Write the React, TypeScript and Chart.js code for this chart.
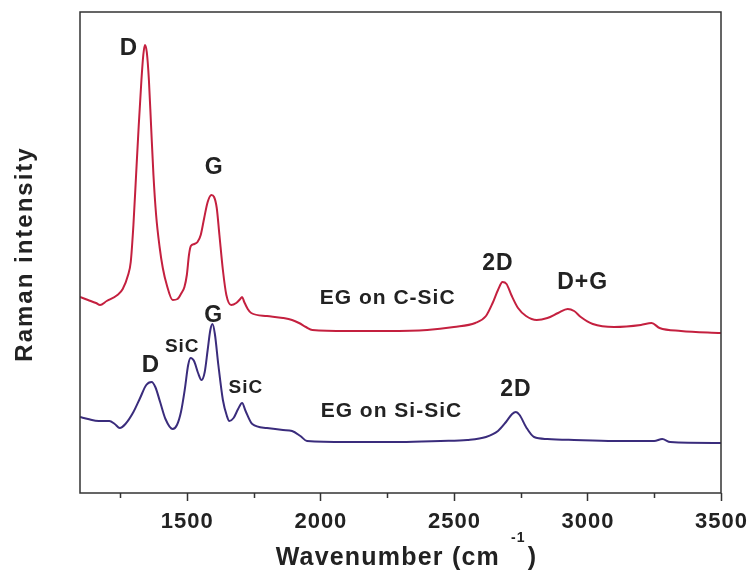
import React, { useEffect, useRef } from "react";
import { Chart, registerables } from "chart.js";

Chart.register(...registerables);

// Wavenumber (cm-1) and intensity (arbitrary units)
const redX = [1100, 1130, 1160, 1175, 1200, 1240, 1260, 1280, 1290, 1300, 1310, 1320, 1330, 1337, 1343, 1350, 1358, 1366, 1375, 1385, 1398, 1410, 1425, 1447, 1465, 1480, 1491, 1500, 1508, 1515, 1528, 1540, 1552, 1565, 1578, 1592, 1602, 1612, 1622, 1635, 1648, 1666, 1685, 1700, 1707, 1715, 1728, 1741, 1800, 1860, 1894, 1920, 1946, 1970, 2100, 2250, 2400, 2500, 2580, 2620, 2645, 2665, 2682, 2697, 2715, 2740, 2770, 2810, 2850, 2890, 2926, 2950, 2975, 3020, 3100, 3200, 3240, 3270, 3350, 3500];
const redY = [196, 193, 190, 188, 192, 198, 204, 218, 231, 268, 318, 368, 413, 438, 448, 441, 413, 368, 318, 278, 246, 225, 208, 193, 194, 200, 206, 218, 238, 247, 249, 251, 258, 275, 291, 298, 296, 285, 258, 223, 198, 188, 190, 194, 196, 191, 184, 180, 177, 175, 173, 170, 166, 163, 162, 162, 163, 166, 170, 177, 190, 203, 211, 209, 198, 185, 177, 173, 175, 180, 184, 182, 176, 169, 166, 168, 170, 165, 162, 160];

const blueX = [1100, 1130, 1170, 1210, 1230, 1249, 1270, 1300, 1325, 1348, 1368, 1382, 1400, 1420, 1447, 1463, 1478, 1492, 1505, 1514, 1527, 1542, 1555, 1567, 1578, 1588, 1596, 1605, 1618, 1635, 1650, 1659, 1675, 1692, 1707, 1720, 1745, 1800, 1860, 1894, 1925, 1950, 2100, 2300, 2450, 2550, 2620, 2665, 2695, 2718, 2732, 2746, 2770, 2800, 2850, 2950, 3100, 3250, 3280, 3310, 3500];
const blueY = [76, 74, 72, 72, 69, 65, 69, 81, 95, 108, 111, 106, 91, 74, 64, 68, 81, 103, 128, 135, 132, 120, 113, 121, 143, 163, 169, 159, 128, 93, 77, 72, 75, 84, 90, 82, 69, 65, 63, 62, 57, 52, 51, 51, 52, 53, 56, 62, 71, 79, 81, 78, 66, 56, 54, 53, 52, 52, 54, 51, 50];

const xMajorTicks = [1500, 2000, 2500, 3000, 3500];
const xMinorTicks = [1250, 1750, 2250, 2750, 3250];

// Peak annotations (data coordinates: wavenumber, baseline intensity)
const labelTexts = ["D", "G", "2D", "D+G", "EG on C-SiC", "D", "SiC", "G", "SiC", "EG on Si-SiC", "2D"];
const labelX = [1281, 1601, 2663, 2980, 2250, 1364, 1481, 1599, 1719, 2264, 2730];
const labelY = [438, 319, 223, 204, 189, 121, 141, 171, 100, 76, 97];
const labelSize = [24, 23, 23, 23, 21, 24, 19, 23, 19, 21, 23];

const RED = "#c4203f";
const BLUE = "#3a2c7c";
const INK = "#222222";
const FONT = '"Liberation Sans", Arial, sans-serif';

function drawSpaced(ctx: CanvasRenderingContext2D, text: string, cx: number, baseY: number, size: number, spacing: number) {
  ctx.font = `bold ${size}px ${FONT}`;
  (ctx as any).letterSpacing = `${spacing}px`;
  ctx.textAlign = "left";
  ctx.textBaseline = "alphabetic";
  const w = ctx.measureText(text).width - spacing;
  ctx.fillText(text, cx - w / 2, baseY);
  (ctx as any).letterSpacing = "0px";
}

const decorPlugin = {
  id: "decor",
  afterDraw(chart: any) {
    const { ctx, chartArea } = chart;
    const xs = chart.scales.x;
    const ys = chart.scales.y;
    ctx.save();
    // frame
    ctx.strokeStyle = "#333";
    ctx.lineWidth = 1.5;
    ctx.strokeRect(chartArea.left, chartArea.top, chartArea.right - chartArea.left, chartArea.bottom - chartArea.top);
    // ticks
    ctx.beginPath();
    for (const v of xMajorTicks) {
      const px = Math.round(xs.getPixelForValue(v)) + 0.5;
      ctx.moveTo(px, chartArea.bottom);
      ctx.lineTo(px, chartArea.bottom + 8);
    }
    for (const v of xMinorTicks) {
      const px = Math.round(xs.getPixelForValue(v)) + 0.5;
      ctx.moveTo(px, chartArea.bottom);
      ctx.lineTo(px, chartArea.bottom + 5);
    }
    ctx.stroke();
    ctx.fillStyle = INK;
    // tick labels
    for (const v of xMajorTicks) {
      drawSpaced(ctx, String(v), xs.getPixelForValue(v), chartArea.bottom + 35, 22, 1);
    }
    // x title with superscript
    const main = "Wavenumber (cm";
    const sup = "-1";
    const close = ")";
    ctx.font = `bold 25px ${FONT}`;
    (ctx as any).letterSpacing = "1.2px";
    const wMain = ctx.measureText(main).width;
    const wClose = ctx.measureText(close).width;
    ctx.font = `bold 14px ${FONT}`;
    const wSup = ctx.measureText(sup).width;
    const gap = 11;
    const total = wMain + gap + wSup + 2 + wClose;
    const cx = (chartArea.left + chartArea.right) / 2 + 6;
    const x0 = cx - total / 2;
    ctx.textAlign = "left";
    ctx.font = `bold 25px ${FONT}`;
    ctx.fillText(main, x0, 565);
    ctx.font = `bold 14px ${FONT}`;
    ctx.fillText(sup, x0 + wMain + gap, 542);
    ctx.font = `bold 25px ${FONT}`;
    ctx.fillText(close, x0 + wMain + gap + wSup + 2, 565);
    (ctx as any).letterSpacing = "0px";
    // y title
    ctx.save();
    ctx.translate(32, 255);
    ctx.rotate(-Math.PI / 2);
    drawSpaced(ctx, "Raman intensity", 0, 0, 24, 2);
    ctx.restore();
    // peak labels
    for (let i = 0; i < labelTexts.length; i++) {
      drawSpaced(ctx, labelTexts[i], xs.getPixelForValue(labelX[i]), ys.getPixelForValue(labelY[i]), labelSize[i], 1);
    }
    ctx.restore();
  },
};

export default function App() {
  const ref = useRef<HTMLCanvasElement | null>(null);
  useEffect(() => {
    if (!ref.current) return;
    const chart = new Chart(ref.current, {
      type: "line",
      data: {
        datasets: [
          {
            label: "EG on C-SiC",
            data: redX.map((x, i) => ({ x, y: redY[i] })),
            borderColor: RED,
            borderWidth: 2,
            pointRadius: 0,
            cubicInterpolationMode: "monotone",
            fill: false,
          },
          {
            label: "EG on Si-SiC",
            data: blueX.map((x, i) => ({ x, y: blueY[i] })),
            borderColor: BLUE,
            borderWidth: 2,
            pointRadius: 0,
            cubicInterpolationMode: "monotone",
            fill: false,
          },
        ],
      },
      options: {
        responsive: false,
        animation: false,
        layout: { padding: { top: 12, right: 32, left: 0, bottom: 0 } },
        plugins: { legend: { display: false }, tooltip: { enabled: false }, title: { display: false } },
        scales: {
          x: {
            type: "linear",
            min: 1100,
            max: 3500,
            ticks: { display: false },
            grid: { display: false },
            border: { display: false },
            afterFit: (s: any) => {
              s.height = 82;
            },
          },
          y: {
            type: "linear",
            min: 0,
            max: 481,
            ticks: { display: false },
            grid: { display: false },
            border: { display: false },
            afterFit: (s: any) => {
              s.width = 80;
            },
          },
        },
      },
      plugins: [decorPlugin],
    } as any);
    return () => chart.destroy();
  }, []);
  return (
    <div style={{ position: "fixed", left: 0, top: 0, width: 753, height: 575, background: "#fff" }}>
      <canvas ref={ref} width={753} height={575} />
    </div>
  );
}
